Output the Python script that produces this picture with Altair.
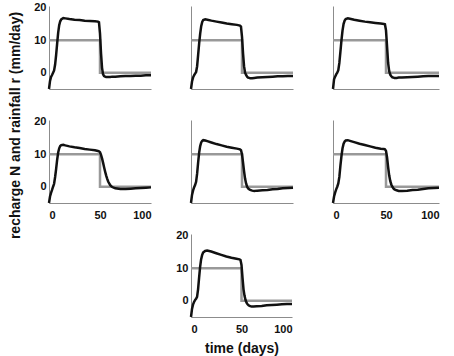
import altair as alt
import pandas as pd

# time axis (days) shared by all recharge curves
time_days = [0, 1, 2, 3, 4, 5, 6, 7, 8, 9, 10, 11, 12, 14, 16, 20, 25, 30, 35, 40, 45, 48, 49,
             50, 51, 52, 53, 54, 55, 56, 57, 58, 60, 62, 65, 70, 75, 80, 85, 90, 95, 100]

# recharge N (mm/day) for the seven panels
recharge_1 = [-5, -2.5, -1.3, -0.7, 0, 0.7, 2.5, 5.5, 9, 12.3, 14.6, 15.8, 16.4,
              16.8, 16.7, 16.5, 16.3, 16.2, 16.0, 15.9, 15.8, 15.7, 15.5,
              12, 6, 1.5, -0.5, -1.0, -1.2, -1.3, -1.3, -1.3,
              -1.3, -1.2, -1.2, -1.1, -1.0, -1.0, -0.9, -0.9, -0.8, -0.8]
recharge_2 = [-5, -2.7, -1.5, -0.8, -0.3, 0.2, 2, 5.5, 9, 12, 14.3, 15.6, 16.2,
              16.4, 16.3, 16.0, 15.7, 15.4, 15.1, 14.9, 14.7, 14.5, 14.2,
              11, 6, 2, 0, -0.7, -1.2, -1.5, -1.6, -1.7,
              -1.7, -1.6, -1.5, -1.4, -1.3, -1.2, -1.1, -1.1, -1.0, -1.0]
recharge_3 = [-5, -2, -1.2, -0.5, 0, 0.8, 3, 6.5, 10, 13, 15, 16, 16.5,
              16.7, 16.6, 16.3, 16.0, 15.7, 15.5, 15.3, 15.1, 15.0, 14.9,
              13, 8, 3, 0.5, -0.6, -1.1, -1.4, -1.5, -1.6,
              -1.6, -1.5, -1.5, -1.4, -1.3, -1.2, -1.1, -1.0, -1.0, -1.0]
recharge_4 = [-5, -3, -1.9, -1, 0, 0.9, 3, 5.5, 8.3, 10.5, 11.8, 12.5, 12.8,
              12.9, 12.7, 12.4, 12.1, 11.9, 11.6, 11.4, 11.2, 11.0, 10.9,
              10.6, 9.8, 8.7, 7.4, 6, 4.7, 3.5, 2.5, 1.6,
              0.5, -0.1, -0.5, -0.7, -0.7, -0.6, -0.5, -0.4, -0.3, -0.2]
recharge_5 = [-5, -2.5, -1.2, -0.2, 0.5, 1.5, 4, 7.5, 10.5, 12.5, 13.6, 14.1, 14.3,
              14.2, 14.0, 13.6, 13.1, 12.7, 12.3, 12.0, 11.7, 11.5, 11.2,
              10, 7.5, 4.8, 2.5, 1, 0, -0.5, -0.8, -1.0,
              -1.2, -1.3, -1.2, -1.1, -1.0, -0.8, -0.7, -0.5, -0.4, -0.3]
recharge_6 = [-5, -3, -1.8, -0.8, 0, 1, 3, 6.5, 9.5, 11.8, 13.2, 13.9, 14.2,
              14.3, 14.1, 13.7, 13.2, 12.8, 12.4, 12.0, 11.7, 11.6, 11.5,
              11, 9, 6, 3.5, 1.8, 0.7, 0, -0.5, -0.8,
              -1.1, -1.3, -1.3, -1.2, -1.0, -0.9, -0.7, -0.5, -0.4, -0.3]
recharge_7 = [-5, -2.5, -1.2, -0.4, 0.2, 0.6, 1.2, 3.5, 7, 10.3, 12.7, 14, 14.8,
              15.3, 15.4, 15.1, 14.6, 14.1, 13.6, 13.2, 12.9, 12.7, 12.5,
              11, 7, 3.5, 1.5, 0.2, -0.6, -1.1, -1.4, -1.6,
              -1.8, -1.8, -1.7, -1.6, -1.4, -1.3, -1.2, -1.1, -1.0, -1.0]

# rainfall r (mm/day): step pulse
rain_time = [0, 50, 50, 100]
rain_value = [10, 10, 0, 0]
rain_order = [0, 1, 2, 3]

x_ticks = [0, 50, 100]
y_ticks = [0, 10, 20]

FONT = "Liberation Sans"
PANEL_H = 83


def panel(values, width, show_x, show_y, x_title=None, y_title=None):
    curve = pd.DataFrame({"t": time_days, "v": values})
    rain = pd.DataFrame({"t": rain_time, "v": rain_value, "k": rain_order})

    xkw = dict(values=x_ticks, labels=show_x, labelPadding=6)
    if x_title:
        xkw.update(title=x_title, titleY=31, titleBaseline="middle")
    else:
        xkw.update(title=None)
    ykw = dict(values=y_ticks, labels=show_y, labelPadding=3)
    if y_title:
        ykw.update(title=y_title, titleX=-34, titleY=5, titleBaseline="middle",
                   titleAlign="center")
    else:
        ykw.update(title=None)

    x = alt.X("t:Q", scale=alt.Scale(domain=[0, 100], nice=False), axis=alt.Axis(**xkw))
    y = alt.Y("v:Q", scale=alt.Scale(domain=[-5, 20.5], nice=False, zero=False),
              axis=alt.Axis(**ykw))

    gray = alt.Chart(rain).mark_line(color="#999999", strokeWidth=2.5).encode(
        x=x, y=y, order=alt.Order("k:Q"))
    black = alt.Chart(curve).mark_line(color="#111111", strokeWidth=2.5).encode(x=x, y=y)
    return alt.layer(gray, black).properties(width=width, height=PANEL_H)


def blank(width):
    d = pd.DataFrame({"a": [0]})
    return alt.Chart(d).mark_point(opacity=0).encode(
        x=alt.X("a:Q", axis=None), y=alt.Y("a:Q", axis=None)
    ).properties(width=width, height=PANEL_H)


cells = [
    panel(recharge_1, 102, False, True),
    panel(recharge_2, 102, False, False),
    panel(recharge_3, 106, False, False),
    panel(recharge_4, 102, True, True, y_title="recharge N and rainfall r (mm/day)"),
    panel(recharge_5, 102, False, False),
    panel(recharge_6, 106, True, False),
    blank(102),
    panel(recharge_7, 101, True, True, x_title="time (days)"),
]

chart = alt.concat(
    *cells, columns=3, align="each", bounds="flush",
    spacing={"row": 31, "column": 40}
).properties(
    padding={"left": 7, "top": 1, "right": 5, "bottom": 2}
).configure_view(stroke=None).configure_axis(
    grid=False, ticks=False, tickSize=0,
    domainColor="#8c8c8c", domainWidth=1,
    labelFont=FONT, labelFontWeight="bold", labelFontSize=11, labelColor="#111111",
    titleFont=FONT, titleFontWeight="bold", titleFontSize=14, titleColor="#111111",
)

chart.save("out.html", embed_options={"renderer": "svg", "actions": False})
